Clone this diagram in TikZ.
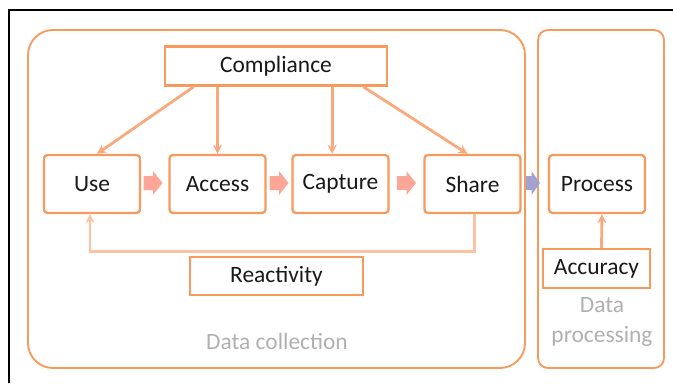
\documentclass[tikz,border=0pt]{standalone}
\usepackage{fontspec}
\setmainfont{Carlito}
\definecolor{lineOrange}{HTML}{F79A5E}
\definecolor{linkOrange}{HTML}{F9A97C}
\definecolor{loopOrange}{HTML}{FBC3A3}
\definecolor{flowPink}{HTML}{FBA696}
\definecolor{flowBlue}{HTML}{A3A3D1}
\definecolor{labelGray}{HTML}{B0B0B0}
\tikzset{
    pics/flowArr/.style={code={
        \fill (-9.5,-7) -- (0,-7) -- (0,-12) -- (9.5,0) -- (0,12) -- (0,7) -- (-9.5,7) -- cycle;
    }},
    pics/flowArrShort/.style={code={
        \fill (-7,-7) -- (-1.5,-7) -- (-1.5,-12) -- (7,0) -- (-1.5,12) -- (-1.5,7) -- (-7,7) -- cycle;
    }},
}
\begin{document}
\begin{tikzpicture}[
    x=0.03cm, y=-0.03cm,
    every node/.style={font=\fontsize{20}{24}\selectfont, text=black!90},
    stageBox/.style={rectangle,rounded corners=3pt,draw=lineOrange,line width=2pt,fill=white,minimum width=2.88cm,minimum height=1.74cm},
    tagBox/.style={rectangle,draw=lineOrange,line width=2pt,fill=white,minimum height=1.17cm},
    groupBox/.style={draw=lineOrange,line width=1.6pt},
    groupLabel/.style={text=labelGray,align=center},
    linkArrow/.style={->,>=stealth,draw=linkOrange,line width=2.4pt},
    loopArrow/.style={->,>=stealth,draw=loopOrange,line width=2.4pt},
]
\useasboundingbox (0,0) rectangle (673,383);
% === frame ===
\draw[black,line width=0.9pt] (9,383) -- (9,10) -- (673,10);
% === groups ===
\draw[groupBox,rounded corners=0.75cm] (28,30) rectangle (525,368);
\draw[groupBox,rounded corners=0.3cm] (538,30) rectangle (664,368);
\node[groupLabel] (collLbl) at (277,341) {Data collection};
\node[groupLabel,font=\fontsize{20}{25}\selectfont] (procLbl) at (602,322) {Data\\processing};
% === stages ===
\node[tagBox,minimum width=6.66cm] (cmpl) at (276,66) {Compliance};
\node[stageBox] (use) at (92,184) {Use};
\node[stageBox] (access) at (217.5,184) {Access};
\node[stageBox] (capture) at (340.5,184) {Capture};
\node[stageBox] (share) at (472.5,184) {Share};
\node[stageBox] (proc) at (597,184) {Process};
\node[tagBox,minimum width=5.19cm,minimum height=1.14cm] (reac) at (276.5,276) {Reactivity};
\node[tagBox,minimum width=3.21cm] (accu) at (596.5,268.5) {Accuracy};
% === flow between stages ===
\pic[fill=flowPink] (flowA) at (153,183) {flowArr};
\pic[fill=flowPink] (flowB) at (279,183) {flowArr};
\pic[fill=flowPink] (flowC) at (406.5,183) {flowArr};
\pic[fill=flowBlue] (flowD) at (533,183) {flowArrShort};
% === compliance links ===
\draw[linkArrow] ([xshift=0.9cm]cmpl.south west) -- ([xshift=0.15cm]use.north);
\draw[linkArrow] (access.north |- cmpl.south) -- (access.north);
\draw[linkArrow] ([xshift=-0.25cm]capture.north |- cmpl.south) -- ([xshift=-0.25cm]capture.north);
\draw[linkArrow] ([xshift=-0.75cm]cmpl.south east) -- ([xshift=-0.15cm]share.north);
% === feedback and accuracy ===
\draw[loopArrow] ([xshift=0.05cm]share.south) -- ++(0,37) -| ([xshift=-0.06cm]use.south);
\draw[linkArrow] ([xshift=0.15cm]accu.north) -- ([xshift=0.15cm]proc.south);
\end{tikzpicture}
\end{document}
